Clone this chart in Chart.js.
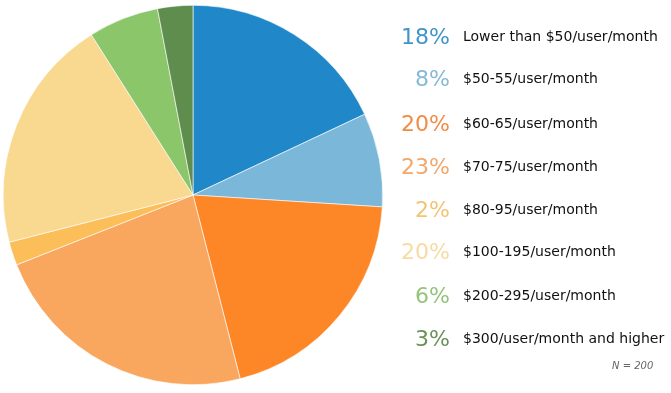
<!DOCTYPE html>
<html>
<head>
<meta charset="utf-8">
<script src="https://cdn.jsdelivr.net/npm/chart.js@4/dist/chart.umd.min.js"></script>
<style>
  html, body { margin: 0; padding: 0; background: #fff; }
  body { width: 671px; height: 393px; position: relative; overflow: hidden; font-family: "DejaVu Sans", Verdana, sans-serif; }
  #pieBox { position: absolute; left: 3px; top: 5px; width: 380px; height: 380px; }
  .row { position: absolute; left: 380px; height: 30px; display: flex; align-items: center; white-space: nowrap; }
  .pct { width: 70px; text-align: right; font-size: 22px; margin-right: 13px; }
  .lbl { font-size: 14px; color: #111; }
  #note { position: absolute; left: 612px; top: 360px; font-size: 10px; font-style: italic; color: #666; }
</style>
</head>
<body>
<div id="pieBox"><canvas id="pie"></canvas></div>
<div id="legend"></div>
<div id="note">N = 200</div>
<script>
const categories = ['Lower than $50/user/month', '$50-55/user/month', '$60-65/user/month', '$70-75/user/month',
  '$80-95/user/month', '$100-195/user/month', '$200-295/user/month', '$300/user/month and higher']
const shares = [18, 8, 20, 23, 2, 20, 6, 3]
const colors = ['#2088c8', '#7bb7d9', '#fd8627', '#f9a65f', '#fbbe58', '#f9d88f', '#8cc66a', '#5f8d4e']
const legendColors = ['#3f95c9', '#86b9d6', '#f28c45', '#f3a76a', '#f2c474', '#f6dca2', '#94c47a', '#6a9158']

/* Légende à droite, une ligne par catégorie */
const legendTop = [21, 63, 108, 151, 194, 236, 280, 323]
const $legend = document.querySelector('#legend')
categories.forEach((c, i) => {
  let row = document.createElement('div')
  row.className = 'row'
  row.style.top = legendTop[i] + 'px'
  row.innerHTML = '<span class="pct" style="color:' + legendColors[i] + '">' + shares[i] + '%</span><span class="lbl"></span>'
  row.querySelector('.lbl').textContent = c
  $legend.appendChild(row)
})

new Chart(document.querySelector('#pie'), {
  type: 'pie',
  data: {
    labels: categories,
    datasets: [{
      data: shares,
      backgroundColor: colors,
      borderColor: '#ffffff',
      borderWidth: 0.6
    }]
  },
  options: {
    responsive: true,
    maintainAspectRatio: false,
    animation: false,
    layout: { padding: 0 },
    plugins: { legend: { display: false }, tooltip: { enabled: false } }
  }
})
</script>
</body>
</html>
